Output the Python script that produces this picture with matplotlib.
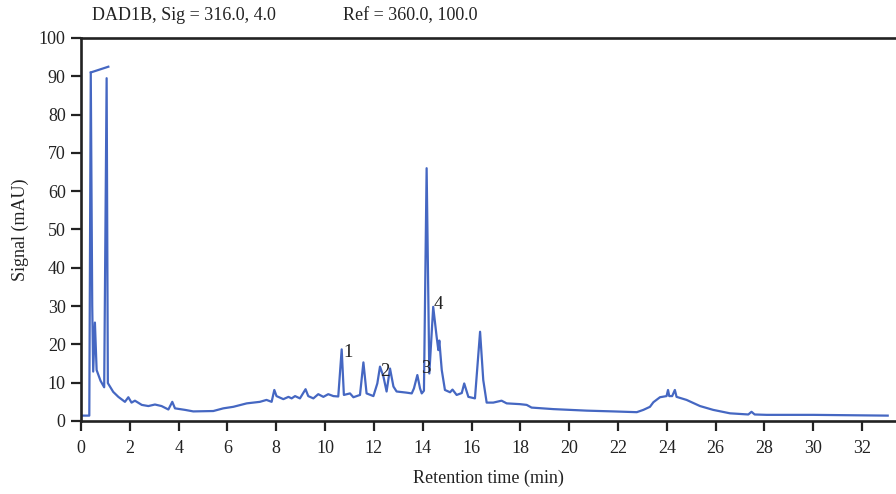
import matplotlib.pyplot as plt

plt.rcParams['font.family'] = ['Liberation Serif', 'DejaVu Serif']

# chromatogram trace (time in min, signal in mAU)
time_min = [0.0, 0.34, 0.40, 0.46, 0.50, 0.57, 0.64, 0.80, 0.95, 1.05, 1.10,
            1.32, 1.53, 1.80, 1.94, 2.07, 2.21, 2.49, 2.76, 3.03, 3.30, 3.58,
            3.74, 3.85, 4.26, 4.60, 5.42, 5.83, 6.24, 6.79, 7.33, 7.60, 7.81,
            7.92, 8.01, 8.29, 8.50, 8.63, 8.77, 8.97, 9.20, 9.31, 9.52, 9.72,
            9.93, 10.13, 10.34, 10.54, 10.68, 10.77, 11.02, 11.16, 11.43, 11.57,
            11.70, 11.98, 12.14, 12.25, 12.39, 12.52, 12.66, 12.80, 12.93, 13.34,
            13.55, 13.64, 13.78, 13.89, 13.96, 14.05, 14.16, 14.27, 14.43, 14.57,
            14.64, 14.68, 14.78, 14.91, 15.12, 15.22, 15.39, 15.60, 15.70, 15.87,
            16.14, 16.35, 16.48, 16.62, 16.89, 17.23, 17.44, 17.98, 18.26, 18.46,
            19.35, 20.72, 21.81, 22.77, 23.04, 23.31, 23.45, 23.72, 23.99, 24.05,
            24.10, 24.22, 24.33, 24.40, 24.81, 25.36, 25.90, 26.59, 27.34, 27.47,
            27.60, 28.09, 30.00, 33.05]
signal_mau = [1.4, 1.4, 91.0, 30.0, 12.9, 25.7, 13.3, 10.5, 8.8, 89.5, 9.9,
              7.6, 6.3, 5.0, 6.2, 4.8, 5.3, 4.2, 3.9, 4.3, 3.9, 3.0,
              5.0, 3.3, 2.9, 2.5, 2.6, 3.3, 3.7, 4.6, 5.0, 5.5, 5.0,
              8.1, 6.5, 5.7, 6.3, 5.9, 6.5, 5.9, 8.3, 6.5, 5.9, 7.0,
              6.3, 7.0, 6.5, 6.4, 18.7, 6.8, 7.2, 6.2, 6.8, 15.3,
              7.2, 6.5, 9.8, 14.2, 11.6, 7.7, 13.7, 9.0, 7.7, 7.4,
              7.2, 8.5, 12.0, 8.5, 7.2, 7.9, 66.0, 12.4, 29.8, 22.0,
              18.5, 21.0, 13.3, 8.1, 7.5, 8.2, 6.8, 7.3, 9.8, 6.3,
              5.9, 23.3, 10.7, 4.8, 4.8, 5.3, 4.6, 4.4, 4.2, 3.5,
              3.1, 2.7, 2.5, 2.3, 2.9, 3.7, 4.9, 6.2, 6.5, 8.1,
              6.5, 6.5, 8.1, 6.3, 5.5, 3.9, 2.9, 2.0, 1.7, 2.4,
              1.7, 1.6, 1.6, 1.4]

# saturated segment at the top of the injection peak
sat_time = [0.40, 1.12]
sat_signal = [91.0, 92.5]

peak_labels = ['1', '2', '3', '4']
peak_x = [10.94, 12.45, 14.13, 14.63]
peak_y = [18.0, 12.8, 13.8, 30.3]

fig = plt.figure(figsize=(8.96, 4.94), dpi=100)
ax = fig.add_axes([0.0904, 0.1478, 0.9096, 0.7753])

line_color = '#4567c2'
ax.plot(time_min, signal_mau, color=line_color, lw=1.6)
ax.plot(sat_time, sat_signal, color=line_color, lw=1.6)

for lab, x, y in zip(peak_labels, peak_x, peak_y):
    ax.text(x, y, lab, ha='center', va='center', fontsize=13.5, color='#222222')

ax.set_xlim(0, 33.39)
ax.set_ylim(0, 100)
ax.set_xticks(range(0, 33, 2))
ax.set_yticks(range(0, 101, 10))
ax.tick_params(direction='out', length=7, width=1.6, labelsize=13, colors='#222222')
ax.tick_params(axis='x', pad=7)
ax.tick_params(axis='y', pad=4)
for side in ['left', 'bottom', 'top']:
    ax.spines[side].set_linewidth(1.9)
    ax.spines[side].set_color('#222222')
ax.spines['right'].set_visible(False)

ax.set_xlabel('Retention time (min)', fontsize=13, color='#222222', labelpad=9)
ax.set_ylabel('Signal (mAU)', fontsize=13, color='#222222', labelpad=7)

fig.text(0.103, 0.969, 'DAD1B, Sig = 316.0, 4.0', fontsize=13, va='center', color='#222222')
fig.text(0.383, 0.969, 'Ref = 360.0, 100.0', fontsize=13, va='center', color='#222222')

fig.savefig('out.png', dpi=100)
